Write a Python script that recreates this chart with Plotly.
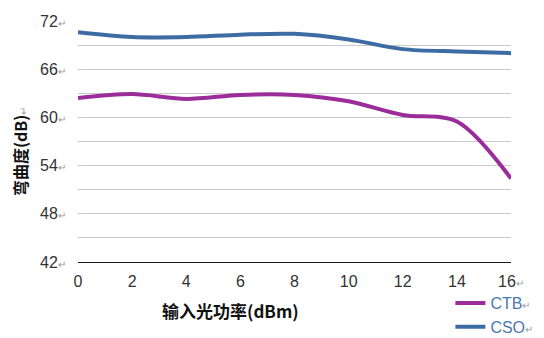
import plotly.graph_objects as go

# Input optical power (dBm) and measured distortion (dB)
power_dbm = [0, 2, 4, 6, 8, 10, 12, 14, 16]
ctb_db = [62.4, 62.9, 62.3, 62.8, 62.8, 62.0, 60.3, 59.5, 52.4]
cso_db = [70.6, 70.0, 70.0, 70.3, 70.4, 69.7, 68.5, 68.2, 68.0]

y_grid = [42, 45, 48, 51, 54, 57, 60, 63, 66, 69, 72]
y_labels = [42, 48, 54, 60, 66, 72]
x_ticks = [0, 2, 4, 6, 8, 10, 12, 14, 16]

MARK = "<span style='font-size:10px;color:#9a9a9a'>↵</span>"

y_text = [(f"{v}" + MARK) if v in y_labels else "" for v in y_grid]
x_text = [f"{v}" + (MARK if v == 16 else "") for v in x_ticks]

fig = go.Figure()
fig.add_trace(go.Scatter(
    x=power_dbm, y=ctb_db, name="CTB" + MARK, mode="lines",
    line=dict(color="#9b2d9b", width=4, shape="spline", smoothing=0.9),
))
fig.add_trace(go.Scatter(
    x=power_dbm, y=cso_db, name="CSO" + MARK, mode="lines",
    line=dict(color="#3d6ca5", width=4, shape="spline", smoothing=0.9),
))

fig.update_layout(
    width=544, height=338,
    margin=dict(l=78, r=33, t=21, b=76, autoexpand=False),
    paper_bgcolor="white", plot_bgcolor="white",
    font=dict(family="Liberation Sans, Arial, sans-serif", size=16, color="#333333"),
    showlegend=True,
    legend=dict(
        x=0.86, y=-0.1, xanchor="left", yanchor="top",
        font=dict(size=16, color="#4a78b0"),
        itemwidth=30, tracegroupgap=0,
        bgcolor="rgba(0,0,0,0)",
    ),
    xaxis=dict(
        range=[0, 16], tickmode="array", tickvals=x_ticks, ticktext=x_text,
        showgrid=False, zeroline=False,
        showline=True, linecolor="#1a1a1a", linewidth=1.3,
        ticks="outside", ticklen=5, tickcolor="rgba(0,0,0,0)",
        tickfont=dict(size=16, color="#333333"),
    ),
    yaxis=dict(
        range=[42, 72], tickmode="array", tickvals=y_grid, ticktext=y_text,
        showgrid=True, gridcolor="#cacaca", gridwidth=1,
        zeroline=False, showline=False,
        ticks="outside", ticklen=8, tickcolor="rgba(0,0,0,0)",
        tickfont=dict(size=16, color="#333333"),
    ),
)

# Axis titles
fig.add_annotation(
    text="<b>输入光功率(dBm)</b>", xref="paper", yref="paper",
    x=(230 - 78) / 433, y=(262 - 310) / 241, xanchor="center", yanchor="middle",
    showarrow=False,
    font=dict(family="Noto Sans CJK SC, sans-serif", size=17, color="#111111"),
)
fig.add_annotation(
    text="<b>弯曲度(dB)</b>" + MARK, xref="paper", yref="paper",
    x=(20 - 78) / 433, y=(262 - 152) / 241, xanchor="center", yanchor="middle",
    textangle=-90, showarrow=False,
    font=dict(family="Noto Sans CJK SC, sans-serif", size=16, color="#111111"),
)

fig.write_html("out.html")
